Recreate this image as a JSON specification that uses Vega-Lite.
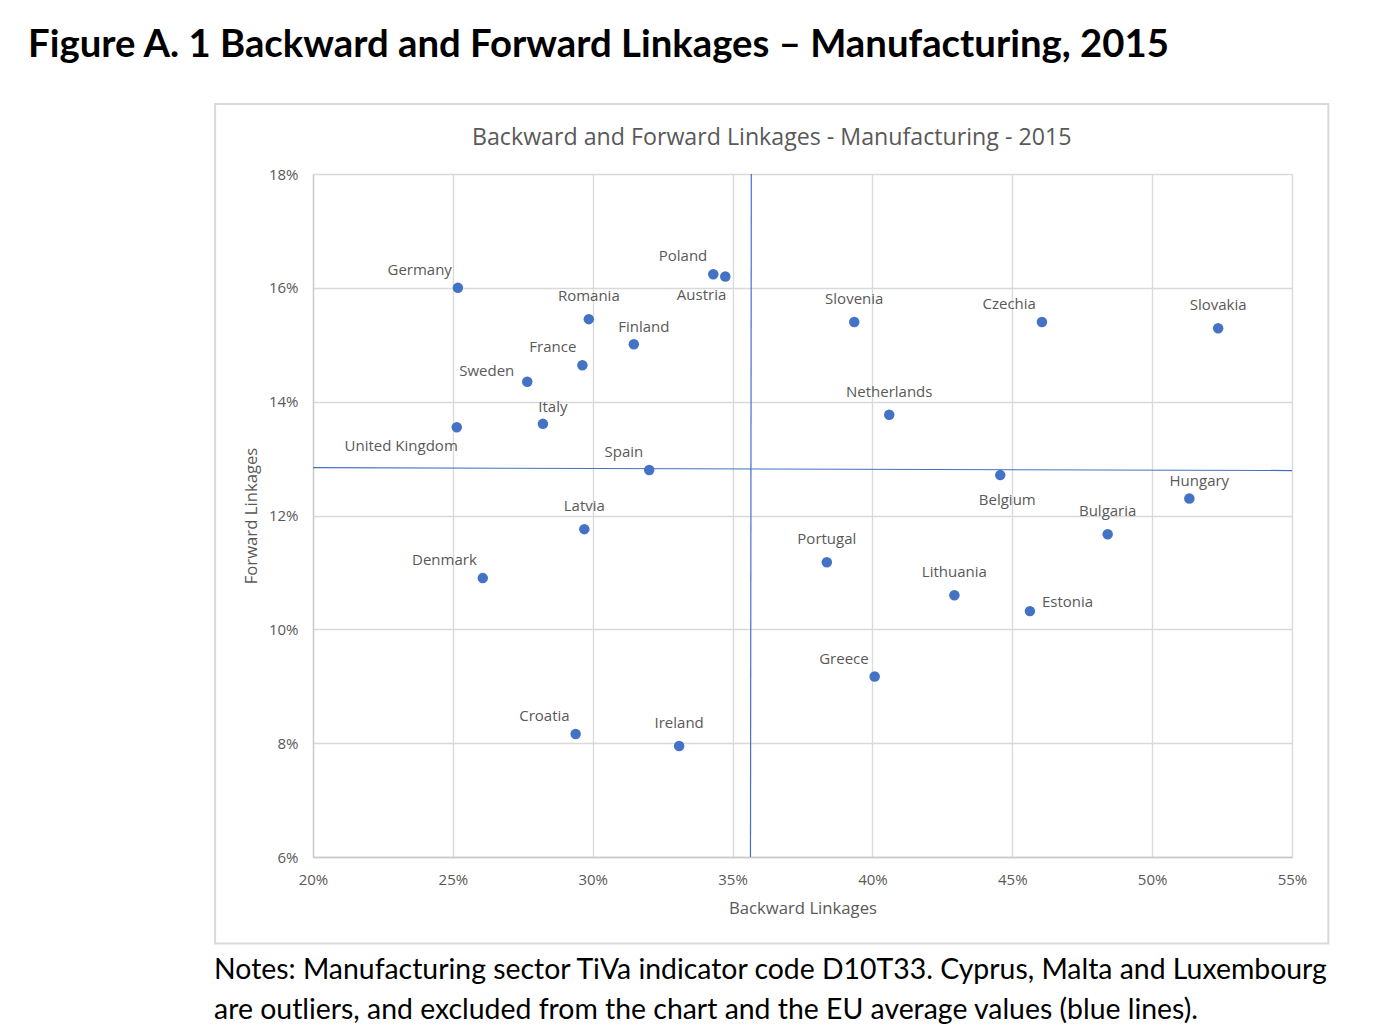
{
  "$schema": "https://vega.github.io/schema/vega-lite/v6.json",
  "background": "white",
  "padding": {"left": 28, "top": 25, "right": 10, "bottom": 5},
  "config": {
    "font": "Open Sans",
    "view": {"stroke": null},
    "concat": {"spacing": 0},
    "axis": {
      "labelFont": "Open Sans",
      "titleFont": "Open Sans",
      "labelColor": "#595959",
      "titleColor": "#595959",
      "labelFontSize": 15,
      "titleFontSize": 16.7,
      "titleFontWeight": "normal",
      "grid": true,
      "gridColor": "#d9d9d9",
      "gridWidth": 1.3,
      "domainColor": "#c8c8c8",
      "domainWidth": 1.3,
      "labelFlush": false,
      "ticks": false,
      "tickSize": 0
    }
  },
  "datasets": {
    "countries": [
      {"country": "Germany", "backward": 0.2518, "forward": 0.1600, "pos": "top-left"},
      {"country": "Poland", "backward": 0.3431, "forward": 0.1624, "pos": "top-left"},
      {"country": "Austria", "backward": 0.3474, "forward": 0.1620, "pos": "bottom-left"},
      {"country": "Romania", "backward": 0.2986, "forward": 0.1545, "pos": "top"},
      {"country": "Finland", "backward": 0.3147, "forward": 0.1501, "pos": "top-right"},
      {"country": "France", "backward": 0.2963, "forward": 0.1464, "pos": "top-left"},
      {"country": "Sweden", "backward": 0.2766, "forward": 0.1435, "pos": "left"},
      {"country": "Italy", "backward": 0.2822, "forward": 0.1361, "pos": "top-right"},
      {"country": "United Kingdom", "backward": 0.2514, "forward": 0.1355, "pos": "bottom-left"},
      {"country": "Spain", "backward": 0.3202, "forward": 0.1280, "pos": "top-left"},
      {"country": "Latvia", "backward": 0.2970, "forward": 0.1176, "pos": "top"},
      {"country": "Denmark", "backward": 0.2607, "forward": 0.1090, "pos": "top-left"},
      {"country": "Croatia", "backward": 0.2939, "forward": 0.0816, "pos": "top-left"},
      {"country": "Ireland", "backward": 0.3309, "forward": 0.0795, "pos": "top"},
      {"country": "Slovenia", "backward": 0.3935, "forward": 0.1540, "pos": "top"},
      {"country": "Czechia", "backward": 0.4606, "forward": 0.1540, "pos": "top-left"},
      {"country": "Slovakia", "backward": 0.5236, "forward": 0.1529, "pos": "top"},
      {"country": "Netherlands", "backward": 0.4060, "forward": 0.1377, "pos": "top"},
      {"country": "Belgium", "backward": 0.4457, "forward": 0.1271, "pos": "bottom"},
      {"country": "Hungary", "backward": 0.5133, "forward": 0.1230, "pos": "top-right"},
      {"country": "Bulgaria", "backward": 0.4841, "forward": 0.1167, "pos": "top"},
      {"country": "Portugal", "backward": 0.3837, "forward": 0.1118, "pos": "top"},
      {"country": "Lithuania", "backward": 0.4293, "forward": 0.1060, "pos": "top"},
      {"country": "Estonia", "backward": 0.4563, "forward": 0.1032, "pos": "right"},
      {"country": "Greece", "backward": 0.4008, "forward": 0.0917, "pos": "top-left"}
    ],
    "averages": [
      {"line": "EU average backward", "backward": 0.3567, "forward": 0.18},
      {"line": "EU average backward", "backward": 0.3564, "forward": 0.06},
      {"line": "EU average forward", "backward": 0.20, "forward": 0.1284},
      {"line": "EU average forward", "backward": 0.55, "forward": 0.1279}
    ]
  },
  "title": {
    "text": "Figure A. 1 Backward and Forward Linkages \u2013 Manufacturing, 2015",
    "anchor": "start",
    "frame": "bounds",
    "font": "Lato",
    "fontSize": 38.3,
    "fontWeight": "bold",
    "color": "#000000",
    "dx": -186,
    "offset": 38
  },
  "vconcat": [
    {
      "title": {
        "text": ["Notes: Manufacturing sector TiVa indicator code D10T33. Cyprus, Malta and Luxembourg", "are outliers, and excluded from the chart and the EU average values (blue lines)."],
        "orient": "bottom",
        "anchor": "start",
        "frame": "bounds",
        "font": "Lato",
        "fontSize": 28.4,
        "fontWeight": "normal",
        "color": "#000000",
        "lineHeight": 40,
        "offset": 12
      },
      "vconcat": [
        {
          "width": 979,
          "height": 683,
          "title": {
            "text": "Backward and Forward Linkages - Manufacturing - 2015",
            "anchor": "middle",
            "frame": "bounds",
            "font": "Open Sans",
            "fontSize": 23.2,
            "fontWeight": "normal",
            "color": "#595959",
            "offset": -47
          },
          "layer": [
            {
              "data": {"values": [{}]},
              "mark": {"type": "rect", "fill": null, "stroke": "#d9d9d9", "strokeWidth": 2, "clip": false},
              "encoding": {
                "x": {"datum": 0.165, "type": "quantitative"},
                "x2": {"datum": 0.563},
                "y": {"datum": 0.1923, "type": "quantitative"},
                "y2": {"datum": 0.0448}
              }
            },
            {
              "data": {"name": "averages"},
              "mark": {"type": "line", "color": "#4472C4", "strokeWidth": 1.2},
              "encoding": {
                "x": {"field": "backward", "type": "quantitative", "title": "Backward Linkages"},
                "y": {"field": "forward", "type": "quantitative", "title": "Forward Linkages"},
                "detail": {"field": "line"}
              }
            },
            {
              "data": {"name": "countries"},
              "mark": {"type": "point", "filled": true, "color": "#4472C4", "opacity": 1, "size": 110},
              "encoding": {
                "x": {
                  "field": "backward", "type": "quantitative", "title": "Backward Linkages",
                  "scale": {"domain": [0.20, 0.55], "nice": false, "zero": false},
                  "axis": {"grid": true, "values": [0.20, 0.25, 0.30, 0.35, 0.40, 0.45, 0.50, 0.55], "format": ".0%", "labelPadding": 15, "titlePadding": 13}
                },
                "y": {
                  "field": "forward", "type": "quantitative", "title": "Forward Linkages",
                  "scale": {"domain": [0.06, 0.18], "nice": false, "zero": false},
                  "axis": {"grid": true, "values": [0.06, 0.08, 0.10, 0.12, 0.14, 0.16, 0.18], "format": ".0%", "labelPadding": 15, "titlePadding": 8}
                }
              }
            },
            {
              "data": {"name": "countries"},
              "transform": [{"filter": "datum.pos === 'top'"}],
              "mark": {"type": "text", "align": "center", "baseline": "middle", "dy": -23, "fontSize": 15, "color": "#595959"},
              "encoding": {
                "x": {"field": "backward", "type": "quantitative", "title": "Backward Linkages"},
                "y": {"field": "forward", "type": "quantitative", "title": "Forward Linkages"},
                "text": {"field": "country"}
              }
            },
            {
              "data": {"name": "countries"},
              "transform": [{"filter": "datum.pos === 'top-left'"}],
              "mark": {"type": "text", "align": "right", "baseline": "middle", "dx": -6, "dy": -18, "fontSize": 15, "color": "#595959"},
              "encoding": {
                "x": {"field": "backward", "type": "quantitative", "title": "Backward Linkages"},
                "y": {"field": "forward", "type": "quantitative", "title": "Forward Linkages"},
                "text": {"field": "country"}
              }
            },
            {
              "data": {"name": "countries"},
              "transform": [{"filter": "datum.pos === 'top-right'"}],
              "mark": {"type": "text", "align": "center", "baseline": "middle", "dx": 10, "dy": -17, "fontSize": 15, "color": "#595959"},
              "encoding": {
                "x": {"field": "backward", "type": "quantitative", "title": "Backward Linkages"},
                "y": {"field": "forward", "type": "quantitative", "title": "Forward Linkages"},
                "text": {"field": "country"}
              }
            },
            {
              "data": {"name": "countries"},
              "transform": [{"filter": "datum.pos === 'left'"}],
              "mark": {"type": "text", "align": "right", "baseline": "middle", "dx": -13, "dy": -11, "fontSize": 15, "color": "#595959"},
              "encoding": {
                "x": {"field": "backward", "type": "quantitative", "title": "Backward Linkages"},
                "y": {"field": "forward", "type": "quantitative", "title": "Forward Linkages"},
                "text": {"field": "country"}
              }
            },
            {
              "data": {"name": "countries"},
              "transform": [{"filter": "datum.pos === 'right'"}],
              "mark": {"type": "text", "align": "left", "baseline": "middle", "dx": 12, "dy": -9, "fontSize": 15, "color": "#595959"},
              "encoding": {
                "x": {"field": "backward", "type": "quantitative", "title": "Backward Linkages"},
                "y": {"field": "forward", "type": "quantitative", "title": "Forward Linkages"},
                "text": {"field": "country"}
              }
            },
            {
              "data": {"name": "countries"},
              "transform": [{"filter": "datum.pos === 'bottom-left'"}],
              "mark": {"type": "text", "align": "right", "baseline": "middle", "dx": 1, "dy": 19, "fontSize": 15, "color": "#595959"},
              "encoding": {
                "x": {"field": "backward", "type": "quantitative", "title": "Backward Linkages"},
                "y": {"field": "forward", "type": "quantitative", "title": "Forward Linkages"},
                "text": {"field": "country"}
              }
            },
            {
              "data": {"name": "countries"},
              "transform": [{"filter": "datum.pos === 'bottom'"}],
              "mark": {"type": "text", "align": "center", "baseline": "middle", "dx": 7, "dy": 25, "fontSize": 15, "color": "#595959"},
              "encoding": {
                "x": {"field": "backward", "type": "quantitative", "title": "Backward Linkages"},
                "y": {"field": "forward", "type": "quantitative", "title": "Forward Linkages"},
                "text": {"field": "country"}
              }
            }
          ]
        }
      ]
    }
  ]
}
